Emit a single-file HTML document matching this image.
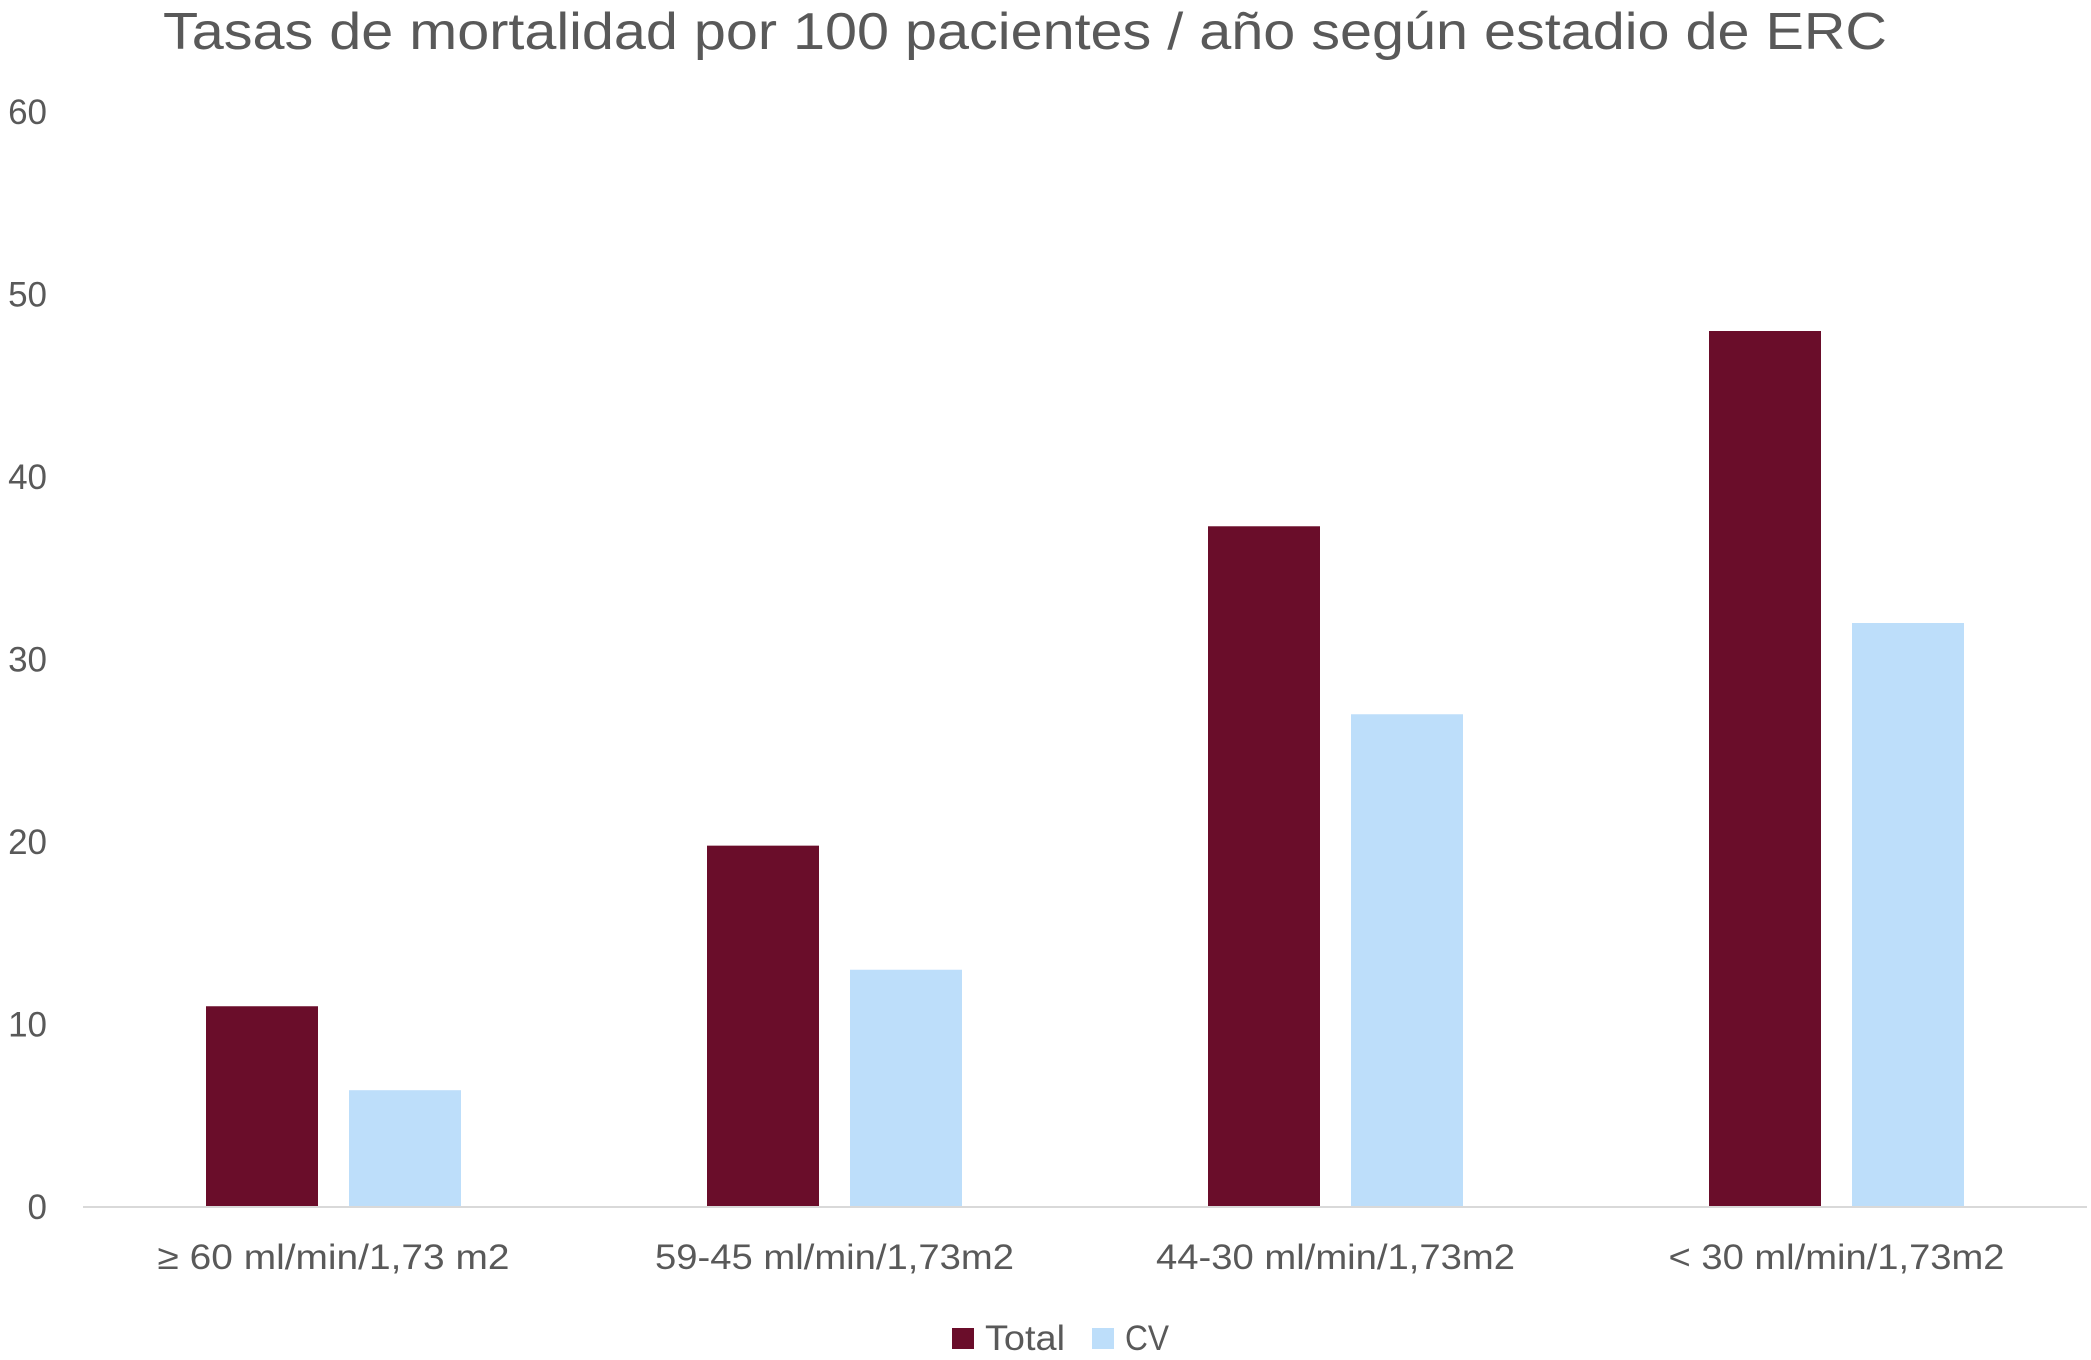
<!DOCTYPE html>
<html><head><meta charset="utf-8"><style>
html,body{margin:0;padding:0;background:#fff;}
svg text{font-family:"Liberation Sans",sans-serif;fill:#595959;}
</style></head><body>
<svg id="chart" width="2091" height="1355" viewBox="0 0 2091 1355" xmlns="http://www.w3.org/2000/svg">
<text x="1025" y="49" font-size="52" text-anchor="middle" textLength="1724" lengthAdjust="spacingAndGlyphs">Tasas de mortalidad por 100 pacientes / año según estadio de ERC</text>
<g id="yaxis"></g>
<g id="bars"></g>
<g id="xaxis"></g>
<g>
<rect x="952" y="1328" width="22" height="21" fill="#6a0d2a"/>
<text x="985" y="1350" font-size="35" textLength="80" lengthAdjust="spacingAndGlyphs">Total</text>
<rect x="1092" y="1328" width="22" height="21" fill="#bddefa"/>
<text x="1125" y="1350" font-size="35" textLength="44" lengthAdjust="spacingAndGlyphs">CV</text>
</g>
</svg>
<script>
const categories = ["≥  60 ml/min/1,73 m2","59-45 ml/min/1,73m2","44-30 ml/min/1,73m2","< 30 ml/min/1,73m2"];
const totalValues = [11, 19.8, 37.3, 48];
const cvValues = [6.4, 13, 27, 32];
const yTicks = [0,10,20,30,40,50,60];
const labelWidths = [352, 359, 359, 336];
const NS="http://www.w3.org/2000/svg";
const left=83,right=2087,base=1207,top60=112;
const y=v=>base-(base-top60)*v/60;
const catW=(right-left)/categories.length;
const cx=i=>left+catW*(i+0.5);
const bw=112,gap=31;
function mk(tag,attrs,parent){const e=document.createElementNS(NS,tag);for(const k in attrs)e.setAttribute(k,attrs[k]);parent.appendChild(e);return e;}
const ya=document.getElementById('yaxis'),bars=document.getElementById('bars'),xa=document.getElementById('xaxis');
yTicks.forEach(t=>{
 const e=mk('text',{x:47,y:y(t)+12,'font-size':35,'text-anchor':'end'},ya);
 
 
 e.textContent=t;
});
categories.forEach((c,i)=>{
 const r1=mk('rect',{x:cx(i)-gap/2-bw,y:y(totalValues[i]),width:bw,height:base-y(totalValues[i]),fill:'#6a0d2a'},bars);
 
 
 const r2=mk('rect',{x:cx(i)+gap/2,y:y(cvValues[i]),width:bw,height:base-y(cvValues[i]),fill:'#bddefa'},bars);
 
 
 const t=mk('text',{x:cx(i),y:1269,'font-size':35,'text-anchor':'middle',textLength:labelWidths[i],lengthAdjust:'spacingAndGlyphs'},xa);
 
 
 t.textContent=c;
});
const ax=mk('line',{x1:left,x2:right,y1:base,y2:base,stroke:'#d9d9d9','stroke-width':2},xa);


</script>
</body></html>
